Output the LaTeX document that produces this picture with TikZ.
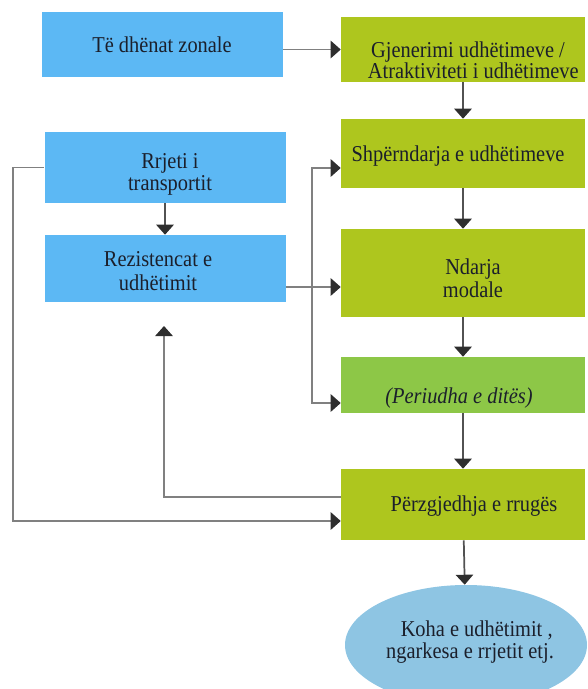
\documentclass[tikz,border=0pt]{standalone}
\usepackage{fontspec}
\setmainfont[FakeStretch=0.9]{Liberation Serif}
\usepackage{tikz}
\usetikzlibrary{arrows.meta,shapes.geometric}

\definecolor{zoneblue}{HTML}{5CB8F4}
\definecolor{stagegreen}{HTML}{AEC61E}
\definecolor{periodgreen}{HTML}{8DC747}
\definecolor{resultblue}{HTML}{8EC5E3}
\definecolor{ink}{HTML}{1B1F2B}

\begin{document}
\begin{tikzpicture}[
  x=0.75pt,
  y=-0.75pt,
  box/.style={draw=none,inner sep=0pt},
  zone/.style={box,fill=zoneblue,minimum width=180.75pt},
  stage/.style={box,fill=stagegreen,minimum width=183pt},
  period/.style={box,fill=periodgreen,minimum width=183pt},
  result/.style={box,ellipse,fill=resultblue,minimum width=181.5pt,minimum height=90pt},
  txt/.style={inner sep=0pt,align=center,text=ink,font=\fontsize{17}{#1}\selectfont},
  txt/.default=17,
  link/.style={draw=black!50,line width=1.3pt,-{Triangle[length=7.5pt,width=13pt,color=black!82]}},
  flow/.style={link,draw=black!68}
]
\useasboundingbox (0,0) rectangle (588,689);

% left column
\node[zone,minimum height=48.75pt] (zonal) at (162,44.5) {};
\node[zone,minimum height=53.25pt] (net) at (165,167.5) {};
\node[zone,minimum height=50.25pt] (res) at (165,268.5) {};

% right column
\node[stage,minimum height=48.75pt] (gen) at (463,49.5) {};
\node[stage,minimum height=51.75pt] (dist) at (463,153.5) {};
\node[stage,minimum height=66pt] (modal) at (463,273) {};
\node[period,minimum height=42pt] (period) at (463,385) {};
\node[stage,minimum height=53.25pt] (route) at (463,504.5) {};
\node[result] (out) at (466,645) {};

% texts
\node[txt] (zonal-t) at (162,45) {Të dhënat zonale};
\node[txt=16.5] (net-t) at (170,174) {Rrjeti i\\transportit};
\node[txt=18.5] (res-t) at (158,271) {Rezistencat e\\udhëtimit};
\node[txt=16] (gen-t) at (468,60) {Gjenerimi udhëtimeve /\\\hspace*{8pt}Atraktiviteti i udhëtimeve};
\node[txt] (dist-t) at (458,156) {Shpërndarja e udhëtimeve};
\node[txt=17.5] (modal-t) at (473,278) {Ndarja\\modale};
\node[txt] (period-t) at (459,398) {\itshape (Periudha e ditës)};
\node[txt] (route-t) at (474,506) {Përzgjedhja e rrugës};
\node[txt=16] (out-t) at (470,642) {\hspace*{10pt}Koha e udhëtimit ,\\ngarkesa e rrjetit etj.};

% branch points
\coordinate (fork) at (312,287);
\coordinate (up) at (312,168);
\coordinate (down) at (312,403);
\coordinate (loop) at (13,521);
\coordinate (back) at (164,497);
\coordinate (backend) at (164,326);

\draw[link] (gen.west -| zonal.east) -- (gen.west);
\draw[flow] (gen) -- (dist);
\draw[flow] (dist) -- (modal);
\draw[flow] (modal) -- (period);
\draw[flow] (period) -- (route);
\draw[flow] (route) -- (out);
\draw[flow] (net) -- (res);
\draw[link] (res.east |- fork) -- (fork -| modal.west);
\draw[link] (fork) -- (up) -- (up -| dist.west);
\draw[link] (fork) -- (down) -- (down -| period.west);
\draw[link] (net.west) -| (loop) -- (loop -| route.west);
\draw[link] (back -| route.west) -- (back) -- (backend);
\end{tikzpicture}
\end{document}
